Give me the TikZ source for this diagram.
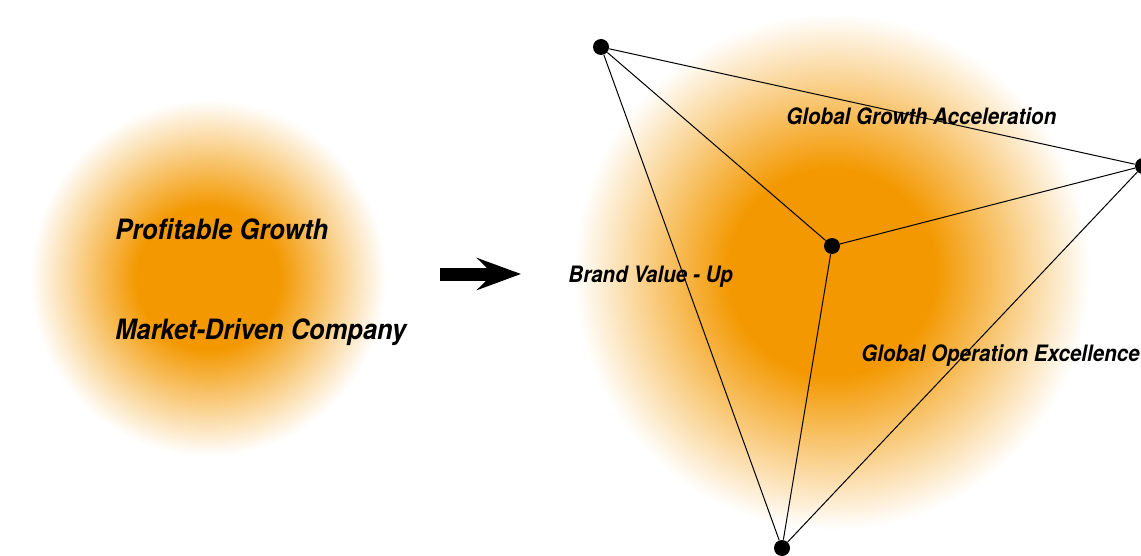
\documentclass[tikz,border=0pt]{standalone}
\usepackage{fontspec}
\newfontfamily\labelfont{TeX Gyre Heros}[FakeStretch=0.91]
\usetikzlibrary{arrows.meta}
\definecolor{glow}{RGB}{243,152,0}
\pgfdeclareradialshading{halo}{\pgfpointorigin}{color(0bp)=(glow); color(10bp)=(glow); color(25bp)=(white); color(50bp)=(white)}

\begin{document}
\begin{tikzpicture}[
    x=0.5pt, y=-0.5pt,
    dot/.style={circle, fill=black, inner sep=0pt, minimum size=8pt},
    biglabel/.style={anchor=west, inner sep=0pt, font=\labelfont\bfseries\itshape\fontsize{14}{16}\selectfont},
    label/.style={anchor=west, inner sep=0pt, font=\labelfont\bfseries\itshape\fontsize{11.3}{13}\selectfont},
    edge/.style={line width=0.5pt},
    bigarrow/.style={line width=6.5pt, -{Stealth[length=22pt, width=16pt, inset=8pt]}}
]
\useasboundingbox (0,0) rectangle (1141,556);
\clip (0,0) rectangle (1141,556);

% glows
\shade[shading=halo] (208,278) circle (89pt);
\shade[shading=halo] (832,272) circle (129pt);

% left side
\node[biglabel] (growth) at (115,229) {Profitable Growth};
\node[biglabel] (company) at (115,332) {Market-Driven Company};

\coordinate (from) at (440,274);
\coordinate (to) at (521,274);
\draw[bigarrow] (from) -- (to);

% right side
\node[dot] (top) at (601,47) {};
\node[dot] (right) at (1143,166) {};
\node[dot] (mid) at (832,246) {};
\node[dot] (bottom) at (782,548) {};

\node[label] (accel) at (786,116) {Global Growth Acceleration};
\node[label] (brand) at (568,277) {Brand Value - Up};
\node[label] (oper) at (861,356) {Global Operation Excellence};

\draw[edge] (top) -- (right);
\draw[edge] (top) -- (mid);
\draw[edge] (top) -- (bottom);
\draw[edge] (right) -- (mid);
\draw[edge] (right) -- (bottom);
\draw[edge] (mid) -- (bottom);
\end{tikzpicture}
\end{document}
